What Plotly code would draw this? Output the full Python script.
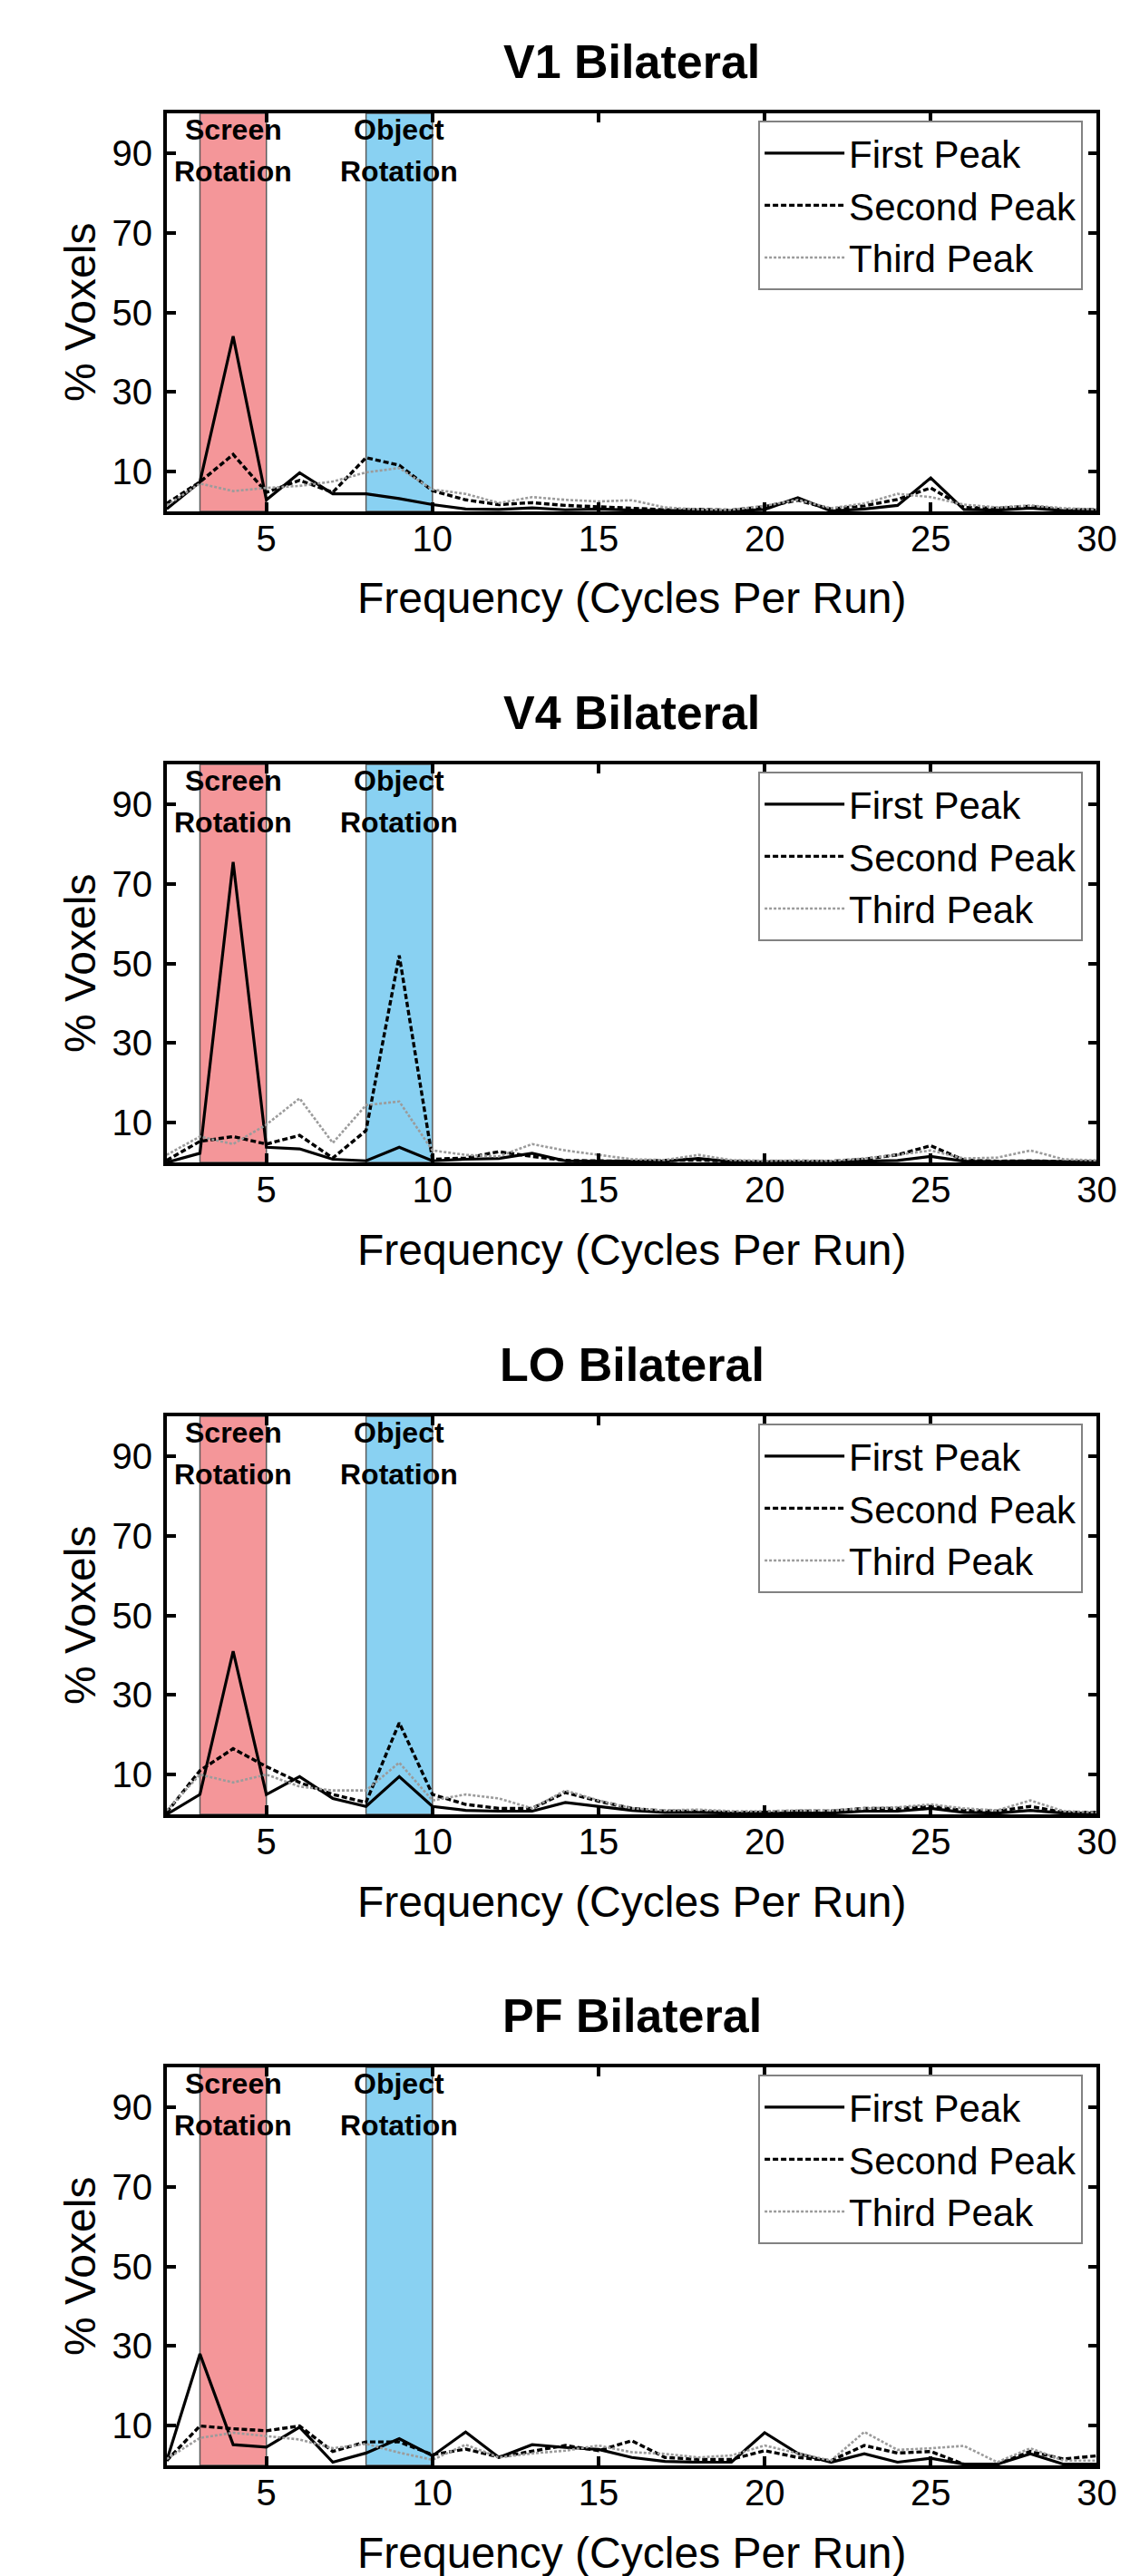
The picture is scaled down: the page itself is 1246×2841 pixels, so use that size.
import plotly.graph_objects as go

W, H = 1246, 2841
FONT = "Liberation Sans, Arial, sans-serif"

freq = list(range(2, 31))

panel_titles = ["V1 Bilateral", "V4 Bilateral", "LO Bilateral", "PF Bilateral"]
series_names = ["First Peak", "Second Peak", "Third Peak"]

v1_first = [0.6, 7.4, 44.0, 2.9, 9.7, 4.4, 4.4, 3.2, 1.7, 0.6, 0.5, 0.9, 0.4, 0.6, 0.3,
            0.2, 0.3, 0.1, 0.5, 3.4, 0.1, 0.6, 1.5, 8.4, 0.5, 0.3, 0.8, 0.2, 0.3]
v1_second = [2.0, 7.4, 14.3, 4.8, 7.8, 4.8, 13.5, 11.6, 5.2, 2.9, 1.7, 2.2, 1.5, 1.2, 0.8,
             0.4, 0.5, 0.3, 1.2, 2.8, 0.6, 1.4, 3.0, 5.9, 1.0, 0.8, 1.3, 0.4, 0.5]
v1_third = [1.5, 7.0, 5.1, 5.9, 6.4, 7.5, 9.8, 10.9, 5.5, 4.4, 2.1, 3.6, 2.9, 2.5, 2.8,
            1.0, 0.5, 0.4, 1.4, 2.9, 0.8, 2.0, 4.4, 3.6, 1.7, 1.0, 1.5, 0.8, 0.5]

v4_first = [0.0, 2.3, 75.5, 3.8, 3.4, 0.8, 0.4, 3.8, 0.4, 0.8, 1.0, 2.3, 0.4, 0.3, 0.3,
            0.3, 1.0, 0.2, 0.2, 0.2, 0.1, 0.3, 0.5, 1.5, 0.3, 0.2, 0.3, 0.2, 0.2]
v4_second = [0.5, 5.3, 6.5, 4.6, 6.8, 1.1, 8.0, 52.0, 0.8, 1.1, 2.7, 1.5, 0.5, 0.4, 0.3,
             0.5, 0.6, 0.3, 0.2, 0.3, 0.3, 0.8, 1.9, 4.2, 0.6, 0.3, 0.4, 0.2, 0.2]
v4_third = [1.9, 6.5, 4.6, 9.5, 16.1, 4.9, 14.4, 15.3, 3.0, 1.9, 1.5, 4.6, 3.0, 1.9, 0.8,
            0.6, 1.9, 0.6, 0.4, 0.5, 0.4, 1.0, 1.9, 3.0, 1.0, 1.2, 3.0, 0.8, 0.5]

lo_first = [0.0, 5.0, 41.0, 5.0, 9.5, 4.0, 2.0, 9.5, 2.0, 1.0, 0.8, 0.8, 3.0, 2.0, 1.0,
            0.5, 0.5, 0.3, 0.3, 0.3, 0.3, 0.8, 0.8, 1.5, 0.5, 0.3, 1.0, 0.3, 0.3]
lo_second = [0.5, 11.0, 16.5, 12.0, 8.0, 5.0, 3.0, 23.0, 5.0, 2.5, 1.5, 1.5, 5.5, 3.3, 1.5,
             0.8, 0.8, 0.5, 0.5, 0.8, 0.8, 1.5, 1.5, 2.0, 1.0, 0.8, 2.0, 0.5, 0.5]
lo_third = [1.0, 10.0, 8.0, 10.0, 7.0, 6.0, 6.0, 13.0, 3.5, 5.0, 4.0, 1.5, 6.0, 3.5, 1.5,
            1.0, 1.2, 0.8, 0.8, 1.0, 1.0, 1.5, 1.8, 2.5, 1.5, 1.0, 3.5, 0.8, 0.5]

pf_first = [1.2, 28.0, 5.2, 4.6, 9.6, 0.8, 3.1, 6.7, 2.4, 8.4, 2.0, 5.2, 4.5, 4.0, 2.0,
            1.0, 0.8, 0.8, 8.2, 3.0, 0.8, 2.9, 0.8, 1.8, 0.3, 0.3, 2.9, 0.3, 0.3]
pf_second = [1.2, 9.9, 9.2, 8.7, 9.9, 3.5, 5.9, 5.9, 2.7, 4.1, 2.1, 3.5, 5.0, 3.7, 6.2,
             2.0, 1.5, 1.5, 3.7, 2.0, 1.2, 5.0, 3.1, 3.5, 0.3, 0.3, 3.5, 1.6, 2.4]
pf_third = [1.6, 6.9, 8.2, 7.4, 6.5, 4.3, 5.4, 3.2, 1.4, 5.2, 2.0, 3.0, 3.7, 5.0, 3.3,
            2.9, 2.0, 2.5, 5.0, 3.0, 1.2, 8.4, 3.9, 4.3, 4.9, 0.8, 4.3, 1.2, 1.2]

panels = [
    (v1_first, v1_second, v1_third),
    (v4_first, v4_second, v4_third),
    (lo_first, lo_second, lo_third),
    (pf_first, pf_second, pf_third),
]

screen_band = (3, 5)
object_band = (8, 10)
x_ticks = [5, 10, 15, 20, 25, 30]
y_ticks = [10, 30, 50, 70, 90]

# ---- layout geometry (pixels) ----
PX_LEFT, PX_RIGHT = 179, 1223
PANEL_TOPS = [117, 835, 1554, 2272]
PANEL_H = 439

line_styles = [
    dict(color="black", width=3.2, dash="solid"),
    dict(color="black", width=3.4, dash="6px,3px"),
    dict(color="rgb(155,155,155)", width=2.6, dash="3px,2px"),
]

fig = go.Figure()
layout = dict(
    width=W, height=H,
    margin=dict(l=0, r=0, t=0, b=0),
    paper_bgcolor="white", plot_bgcolor="white",
    font=dict(family=FONT, color="black"),
    showlegend=True,
    shapes=[], annotations=[],
)

x0p = PX_LEFT / W
x1p = PX_RIGHT / W

for i, (title, series) in enumerate(zip(panel_titles, panels)):
    n = i + 1
    xa = "x" if n == 1 else f"x{n}"
    ya = "y" if n == 1 else f"y{n}"
    xkey = "xaxis" if n == 1 else f"xaxis{n}"
    ykey = "yaxis" if n == 1 else f"yaxis{n}"
    lkey = "legend" if n == 1 else f"legend{n}"
    top = PANEL_TOPS[i]
    bot = top + PANEL_H
    yd = [1 - bot / H, 1 - top / H]

    for s_vals, name, st in zip(series, series_names, line_styles):
        fig.add_trace(go.Scatter(
            x=freq, y=s_vals, mode="lines", name=name,
            line=st, xaxis=xa, yaxis=ya, legend=lkey,
            showlegend=True,
        ))

    axis_common = dict(
        showgrid=False, zeroline=False, showline=True, linecolor="black",
        linewidth=3.5, mirror="ticks", ticks="inside", ticklen=10,
        tickwidth=3.5, tickcolor="black",
        tickfont=dict(family=FONT, size=40, color="black"),
    )
    layout[xkey] = dict(axis_common, domain=[x0p, x1p], range=[2, 30],
                        tickmode="array", tickvals=x_ticks, anchor=ya,
                        ticklabelstandoff=-8)
    layout[ykey] = dict(axis_common, domain=yd, range=[0, 100],
                        tickmode="array", tickvals=y_ticks, anchor=xa,
                        ticklabelstandoff=4)

    # frequency bands
    for (b0, b1), col in ((screen_band, "rgb(244,150,153)"), (object_band, "rgb(137,209,242)")):
        layout["shapes"].append(dict(
            type="rect", xref=xa, yref=f"{ya} domain", x0=b0, x1=b1, y0=0, y1=1,
            fillcolor=col, line=dict(color="rgb(90,90,90)", width=1.5), layer="below"))

    # band labels
    for cx, words in ((sum(screen_band) / 2, ("Screen", "Rotation")),
                      (sum(object_band) / 2, ("Object", "Rotation"))):
        for k, word in enumerate(words):
            layout["annotations"].append(dict(
                text=f"<b>{word}</b>", xref=xa, x=cx, yref="paper",
                y=1 - (top + 18 + 46 * k) / H, xanchor="center", yanchor="middle",
                showarrow=False, font=dict(family=FONT, size=32, color="black")))

    # panel title
    layout["annotations"].append(dict(
        text=f"<b>{title}</b>", xref="paper", x=(PX_LEFT + PX_RIGHT) / 2 / W,
        yref="paper", y=1 - (top - 57) / H, xanchor="center", yanchor="middle",
        showarrow=False, font=dict(family=FONT, size=52, color="black")))

    # axis titles
    layout["annotations"].append(dict(
        text="Frequency (Cycles Per Run)", xref="paper", x=(PX_LEFT + PX_RIGHT) / 2 / W,
        yref="paper", y=1 - (bot + 96) / H, xanchor="center", yanchor="middle",
        showarrow=False, font=dict(family=FONT, size=48, color="black")))
    layout["annotations"].append(dict(
        text="% Voxels", xref="paper", x=82 / W, yref="paper",
        y=1 - (top + PANEL_H / 2) / H, xanchor="center", yanchor="middle",
        textangle=-90, showarrow=False, font=dict(family=FONT, size=48, color="black")))

    layout[lkey] = dict(
        x=843 / W, y=1 - (top + 8) / H, xanchor="left", yanchor="top",
        bgcolor="white", bordercolor="rgb(130,130,130)", borderwidth=2,
        font=dict(family=FONT, size=42, color="black"),
        itemwidth=88, tracegroupgap=0,
    )

fig.update_layout(**layout)
fig.write_html("out.html")
